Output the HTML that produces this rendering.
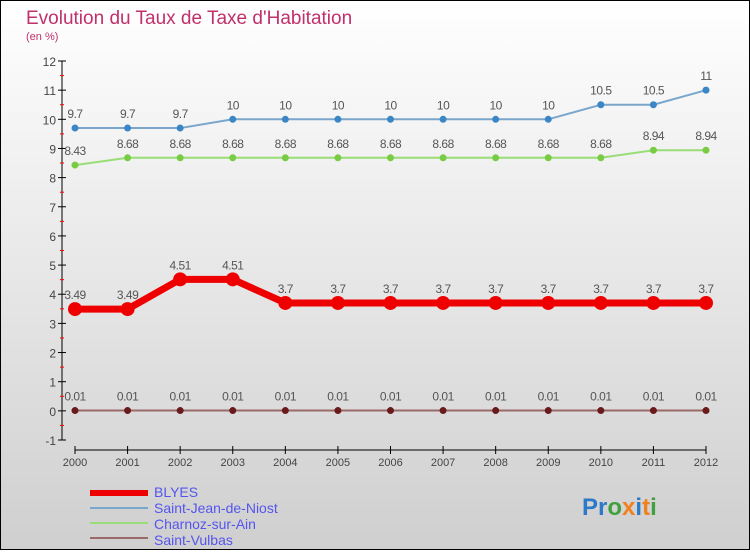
<!DOCTYPE html>
<html><head><meta charset="utf-8"><style>
html,body{margin:0;padding:0}
body{width:750px;height:550px;overflow:hidden;font-family:"Liberation Sans",sans-serif}
</style></head><body>
<svg width="750" height="550" xmlns="http://www.w3.org/2000/svg">
<defs><linearGradient id="bg" x1="0" y1="0" x2="0" y2="1"><stop offset="0" stop-color="#ffffff"/><stop offset="1" stop-color="#cfcfcf"/></linearGradient></defs>
<rect x="0.5" y="0.5" width="749" height="549" fill="url(#bg)" stroke="#000"/>
<text x="26" y="24" font-size="19" fill="#c0306a">Evolution du Taux de Taxe d'Habitation</text>
<text x="26" y="40" font-size="11" fill="#c0306a">(en %)</text>
<g id="axes"></g>
<g id="series"></g>
<g>
<rect x="90" y="490" width="58" height="6" fill="#ee0000"/>
<text x="154" y="497" font-size="14" fill="#5555ee">BLYES</text>
<rect x="90" y="507" width="58" height="2" fill="#7aa6cc"/>
<text x="154" y="513" font-size="14" fill="#5555ee">Saint-Jean-de-Niost</text>
<rect x="90" y="522" width="58" height="2" fill="#99dd77"/>
<text x="154" y="529" font-size="14" fill="#5555ee">Charnoz-sur-Ain</text>
<rect x="90" y="537" width="58" height="2" fill="#9a6a6a"/>
<text x="154" y="545" font-size="14" fill="#5555ee">Saint-Vulbas</text>
</g>
<text x="582" y="515" font-size="24" font-weight="bold"><tspan fill="#2a7ac8">Pr</tspan><tspan fill="#40a040">o</tspan><tspan fill="#f08020">x</tspan><tspan fill="#2a7ac8">i</tspan><tspan fill="#f08020">t</tspan><tspan fill="#40a040">i</tspan></text>
</svg>
<script>
const years=[2000,2001,2002,2003,2004,2005,2006,2007,2008,2009,2010,2011,2012];
const yTicks=[-1,0,1,2,3,4,5,6,7,8,9,10,11,12];
const blyes=[3.49,3.49,4.51,4.51,3.7,3.7,3.7,3.7,3.7,3.7,3.7,3.7,3.7];
const saintJean=[9.7,9.7,9.7,10,10,10,10,10,10,10,10.5,10.5,11];
const charnoz=[8.43,8.68,8.68,8.68,8.68,8.68,8.68,8.68,8.68,8.68,8.68,8.94,8.94];
const saintVulbas=[0.01,0.01,0.01,0.01,0.01,0.01,0.01,0.01,0.01,0.01,0.01,0.01,0.01];
const NS="http://www.w3.org/2000/svg";
function X(i){return 75+i*(706-75)/(years.length-1);}
function Y(v){return 61+(12-v)*(440-61)/13;}
function el(t,a,p){const e=document.createElementNS(NS,t);for(const k in a)e.setAttribute(k,a[k]);p.appendChild(e);return e;}
const ax=document.getElementById('axes');
let l=el('line',{x1:62,y1:61,x2:62,y2:440,stroke:'#000'},ax);


yTicks.forEach(v=>{
 el('line',{x1:58,x2:66,y1:Y(v),y2:Y(v),stroke:'#000'},ax);
 if(v<12) el('line',{x1:60,x2:64,y1:Y(v+0.5),y2:Y(v+0.5),stroke:'#f00'},ax);
 const t=el('text',{x:56,y:Y(v)+5,'font-size':12,fill:'#444','text-anchor':'end'},ax);t.textContent=v;
 
 
});
l=el('line',{x1:75,y1:450,x2:706,y2:450,stroke:'#000'},ax);


years.forEach((y,i)=>{
 el('line',{x1:X(i),x2:X(i),y1:446,y2:454,stroke:'#000'},ax);
 const t=el('text',{x:X(i),y:466,'font-size':11,fill:'#444','text-anchor':'middle'},ax);t.textContent=y;
 
 
});
const sg=document.getElementById('series');
function series(vals,name,color,dot,w,r,fmt){
 const g=el('g',{},sg);
 
 
 el('polyline',{points:vals.map((v,i)=>X(i)+','+Y(v)).join(' '),fill:'none',stroke:color,'stroke-width':w},g);
 vals.forEach((v,i)=>{
  const c=el('circle',{cx:X(i),cy:Y(v),r:r,fill:dot},g);
  
  
  const t=el('text',{x:X(i),y:Y(v)-10,'font-size':12,fill:'#555','text-anchor':'middle','letter-spacing':'-0.5'},g);t.textContent=fmt(v);
  
  
 });
}
series(saintVulbas,'saint-vulbas-series','#9a6a6a','#6a1a1a',2,3.5,v=>v.toFixed(2));
series(charnoz,'charnoz-series','#99dd77','#77cc44',2,3.5,v=>String(v));
series(saintJean,'saint-jean-series','#7aa6cc','#3a86c6',2,3.5,v=>String(v));
series(blyes,'blyes-series','#ee0000','#ee0000',7,7,v=>String(v));
</script>
</body></html>
